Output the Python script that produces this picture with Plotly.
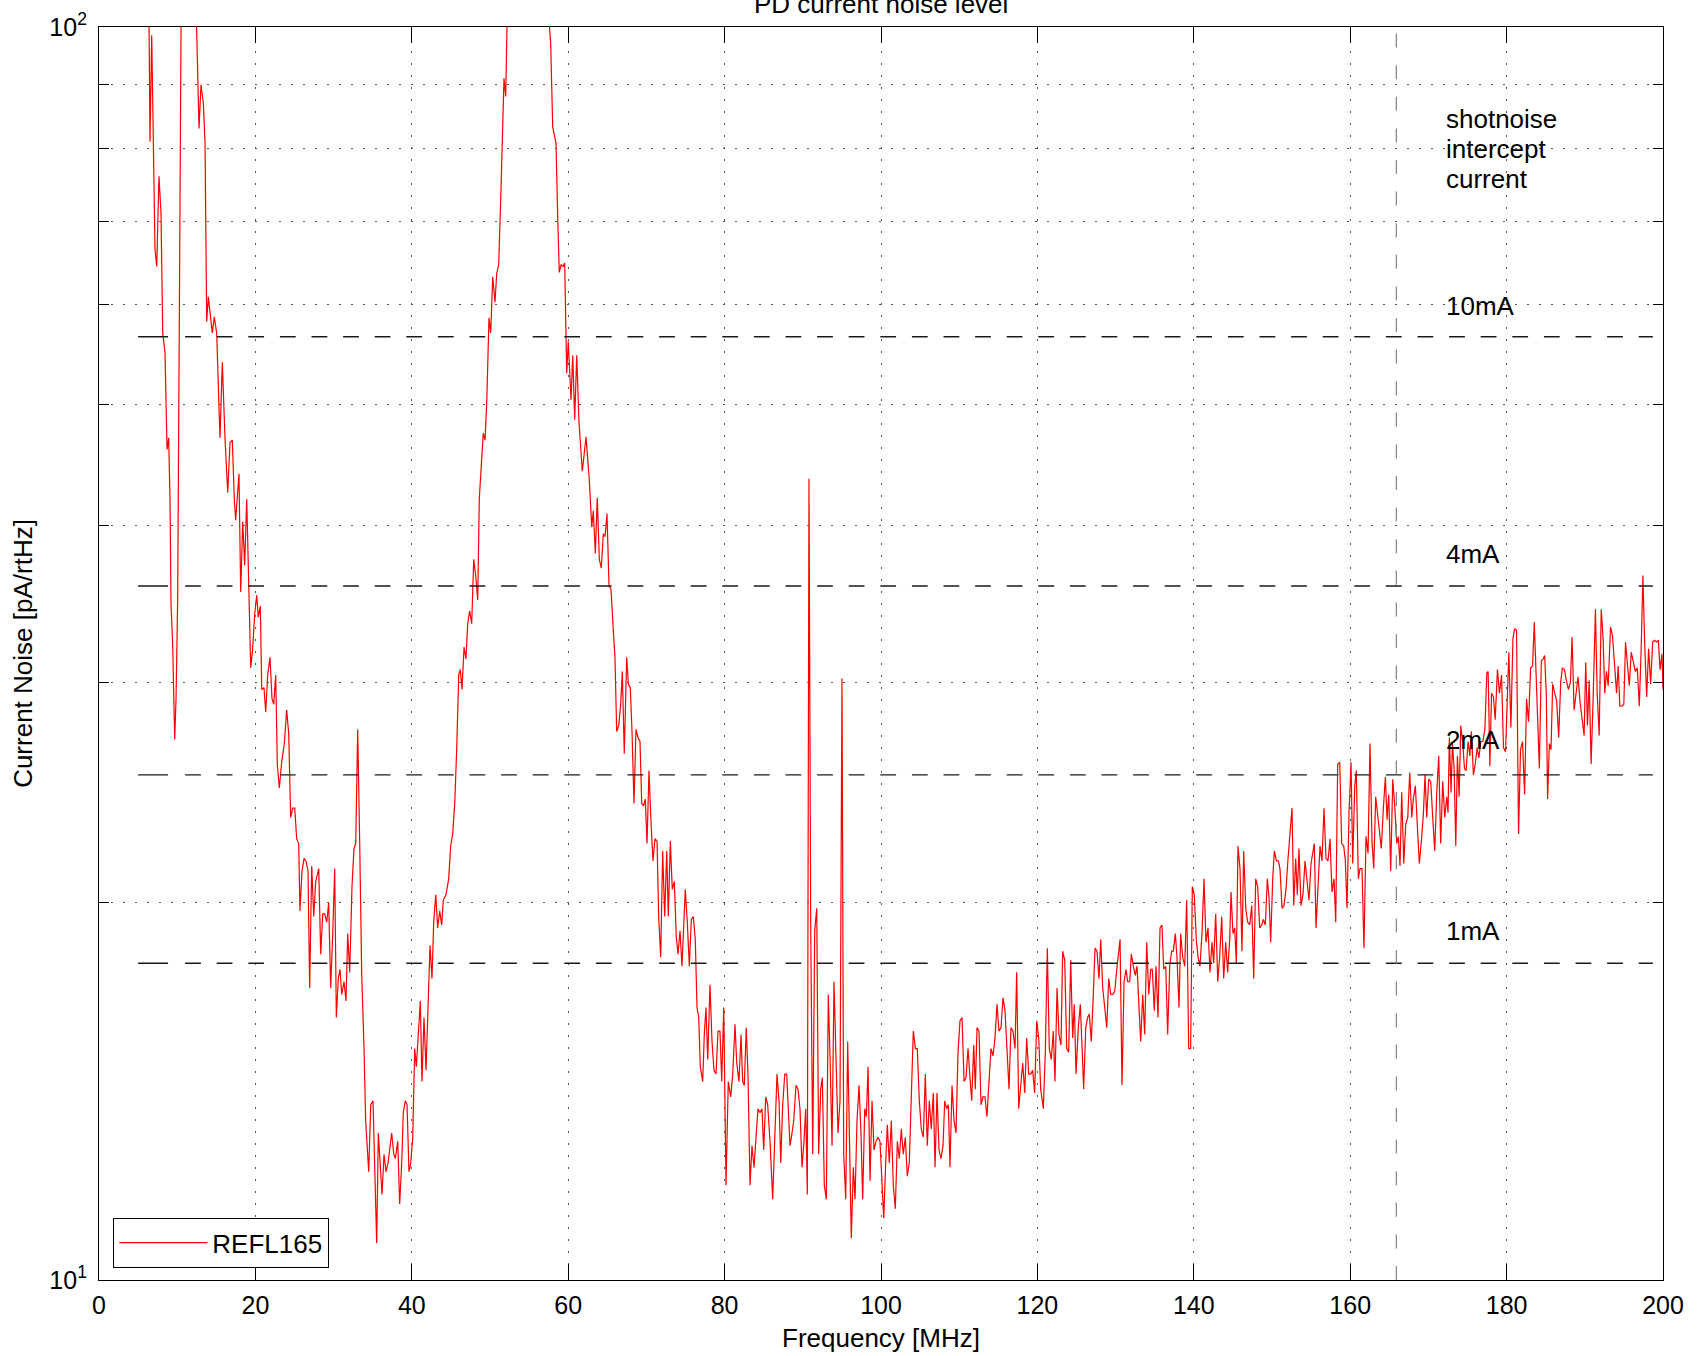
import math
import plotly.graph_objects as go

# ---------------- data (frequency in MHz, noise in pA/rtHz) ----------------
freq_low = [
    5.00, 5.60, 6.10, 6.30, 6.52, 6.74, 7.16, 7.38, 7.67, 7.93,
    8.15, 8.44, 8.70, 8.91, 9.08, 9.21, 9.42, 9.68, 9.85, 10.06,
    10.14, 10.60, 11.50, 12.20, 12.57, 12.79, 13.04, 13.34, 13.56, 13.77,
    13.98, 14.28, 14.49, 14.74, 15.05, 15.47, 15.77, 16.11, 16.46, 16.75,
    17.05, 17.30, 17.48, 17.90, 18.12, 18.38, 18.63, 18.89, 19.14, 19.40,
    19.65, 19.91, 20.17, 20.37, 20.63, 20.81, 21.10, 21.32, 21.57, 21.87,
    22.12, 22.34, 22.60, 22.80, 23.06, 23.36, 23.70, 24.00, 24.26, 24.51,
    24.77, 25.03, 25.28, 25.54, 25.70, 25.96, 26.22, 26.47, 26.73, 26.94,
    27.20, 27.46, 27.71, 28.10, 28.35, 28.61, 28.86, 29.12, 29.37, 29.63,
    29.89, 30.14, 30.35, 30.60, 30.82, 31.04, 31.33, 31.59, 31.80, 32.06,
    32.35, 32.61, 32.83, 33.08, 33.34, 33.59, 33.89, 34.10, 34.49, 34.75,
    35.04, 35.30, 35.51, 35.72, 35.93, 36.19, 36.45, 36.70, 36.96, 37.17,
    37.43, 37.69, 37.89, 38.20, 38.45, 38.71, 38.91, 39.17, 39.39, 39.64,
    39.86, 40.12, 40.37, 40.58, 40.83, 41.09, 41.30, 41.56, 41.82, 42.07,
    42.33, 42.58, 42.80, 43.06, 43.31, 43.57, 43.82, 44.03, 44.37, 44.72,
    44.97, 45.23, 45.49, 45.74, 46.00, 46.20, 46.42, 46.68, 46.93, 47.15,
    47.40, 47.66, 47.92, 48.17, 48.43, 48.63, 49.14, 49.36, 49.58, 49.87,
    50.09, 50.35, 50.64, 50.86, 51.11, 51.37, 51.57, 51.79, 52.01, 52.40,
    55.00, 57.30, 57.76, 58.02, 58.44, 58.66, 58.86, 59.08, 59.34, 59.55,
]
noise_low = [
    150, 140, 135, 120, 81, 98.5, 66.5, 64.4, 76, 71,
    57, 55, 46, 47, 42, 34.6, 32.2, 27.0, 29.1, 34.9,
    42, 130, 180, 118, 90.2, 83, 89.9, 87, 80.8, 58.2,
    60.9, 58.4, 57, 58.7, 57, 47, 54, 47, 42.5, 46.6,
    46.8, 42, 40.4, 44, 35.4, 40.3, 37.2, 42, 36.5, 30.8,
    31.9, 34, 35.2, 33.8, 34.5, 29.6, 29.7, 28.4, 30.4, 31.4,
    29.1, 28.8, 30.4, 25.8, 24.7, 25.9, 26.8, 28.5, 27.3, 23.4,
    23.8, 23.8, 22.5, 22.3, 19.7, 21.2, 21.7, 21.6, 21.2, 17.1,
    21.4, 19.5, 20.8, 21.3, 18.2, 19.6, 19.6, 19.3, 20.0, 17.1,
    18.9, 21.3, 16.2, 17.4, 17.7, 16.9, 17.3, 16.7, 18.9, 17.6,
    20.6, 22.1, 22.3, 27.5, 22.3, 17.6, 15.3, 13.4, 12.2, 13.8,
    13.9, 11.7, 10.7, 13.1, 12.4, 11.7, 12.6, 12.2, 12.4, 12.7,
    13.1, 12.6, 12.5, 12.9, 11.5, 12.4, 13.6, 13.9, 13.8, 12.2,
    12.4, 13.0, 15.3, 14.8, 15.6, 16.7, 14.4, 16.2, 14.7, 16.2,
    18.5, 17.4, 19.3, 20.3, 19.1, 19.7, 19.2, 20.1, 20.3, 20.9,
    22.2, 22.7, 24.0, 26.5, 30.4, 30.7, 29.6, 32.0, 31.3, 33.4,
    34.2, 33.4, 37.6, 36.5, 34.9, 42, 47.4, 46.8, 50.1, 58.6,
    57.0, 63.2, 60.3, 63.6, 64.6, 72.8, 80.2, 91, 88, 120,
    170, 106, 97, 83.2, 80.8, 70.4, 63.7, 64.6, 64.4, 64.8,
]

freq_mid = [
    59.81, 60.01, 60.36, 60.58, 60.83, 61.09, 61.38, 61.80, 62.28, 62.70,
    63.01, 63.21, 63.47, 63.72, 63.98, 64.23, 64.49, 64.71, 64.96, 65.22,
    65.47, 65.77, 65.98, 66.20, 66.46, 66.71, 66.92, 67.17, 67.48, 67.69,
    67.94, 68.16, 68.41, 68.67, 68.93, 69.18, 69.40, 69.63, 69.86, 70.08,
    70.33, 70.59, 70.84, 71.10, 71.36, 71.57, 71.83, 72.08, 72.34, 72.60,
    72.80, 73.06, 73.31, 73.57, 73.82, 74.04, 74.30, 74.55, 74.77, 74.97,
    75.23, 75.49, 75.74, 76.00, 76.25, 76.47, 76.69, 76.89, 77.20, 77.40,
    77.62, 77.84, 78.13, 78.39, 78.64, 78.90, 79.16, 79.41, 79.63, 79.89,
    80.18, 80.47, 80.78, 81.04, 81.33, 81.55, 81.84, 82.10, 82.31, 82.52,
    82.77, 82.99, 83.25, 83.50, 83.76, 84.02, 84.27, 84.53, 84.78, 85.00,
    85.26, 85.51, 85.81, 86.15, 86.45, 86.70, 86.96, 87.18, 87.43, 87.69,
    87.94, 88.15, 88.36, 88.62, 88.84, 89.13, 89.39, 89.64, 89.90, 90.15,
    90.37, 90.58, 90.79, 91.01, 91.27, 91.52, 91.78, 92.03, 92.29, 92.50,
    92.75, 93.01, 93.26, 93.48, 93.74, 93.99, 94.25, 94.50, 94.76, 95.01,
    95.23, 95.49, 95.74, 95.95, 96.20, 96.46, 96.68, 96.93, 97.19, 97.44,
    97.66, 97.92, 98.13, 98.34, 98.60, 98.85, 99.11, 99.36, 99.62, 99.87,
]
noise_mid = [
    52.9, 56.1, 50.4, 54.7, 48.6, 54.7, 48.4, 44.2, 47.1, 43.5,
    39.9, 41.1, 38.0, 42.1, 37.6, 37.0, 39.4, 39.2, 40.9, 35.8,
    35.6, 33.0, 31.4, 27.4, 27.7, 28.8, 30.6, 26.3, 31.4, 29.9,
    29.7, 27.4, 24.0, 27.5, 27.1, 26.9, 24.0, 23.9, 24.2, 22.3,
    25.5, 23.2, 21.6, 22.5, 22.4, 19.5, 18.1, 22.0, 19.5, 22.0,
    19.5, 22.4, 20.5, 20.8, 18.8, 18.2, 19.0, 17.8, 19.3, 20.5,
    19.3, 17.8, 19.4, 19.5, 18.7, 16.5, 16.2, 14.8, 14.4, 15.7,
    16.5, 15.0, 17.2, 15.5, 14.7, 14.6, 15.8, 15.8, 14.4, 16.5,
    11.9, 14.4, 14.0, 14.6, 16.0, 14.9, 14.4, 15.7, 14.4, 14.3,
    15.9, 14.6, 11.9, 12.8, 12.3, 12.9, 13.7, 13.6, 13.7, 12.7,
    14.0, 13.8, 12.9, 11.6, 13.1, 14.6, 13.9, 12.4, 13.8, 14.6,
    14.6, 13.8, 12.8, 13.1, 13.4, 14.3, 14.2, 13.7, 12.3, 12.9,
    13.7, 11.7, 43.6, 19.2, 12.6, 19.0, 19.8, 12.6, 14.2, 14.5,
    11.9, 11.6, 16.9, 15.1, 12.8, 17.3, 15.3, 13.1, 13.9, 30.2,
    12.6, 11.6, 15.5, 13.4, 10.8, 12.3, 11.6, 13.4, 14.3, 13.1,
    11.6, 13.7, 13.5, 14.8, 12.0, 13.9, 12.7, 12.9, 13.0, 12.9,
]

freq_upper = [
    100.13, 100.35, 100.60, 100.81, 101.06, 101.32, 101.57, 101.83, 102.09, 102.34,
    102.60, 102.85, 103.11, 103.36, 103.62, 103.88, 104.13, 104.39, 104.64, 104.90,
    105.15, 105.41, 105.67, 105.92, 106.18, 106.43, 106.69, 106.91, 107.16, 107.42,
    107.67, 107.93, 108.15, 108.40, 108.61, 108.82, 109.08, 109.34, 109.59, 109.85,
    110.10, 110.36, 110.62, 110.87, 111.13, 111.38, 111.60, 111.86, 112.06, 112.28,
    112.53, 112.79, 113.04, 113.30, 113.55, 113.81, 114.07, 114.32, 114.58, 114.83,
    115.09, 115.35, 115.60, 115.86, 116.11, 116.37, 116.62, 116.88, 117.14, 117.35,
    117.61, 117.86, 118.12, 118.38, 118.63, 118.89, 119.14, 119.40, 119.65, 119.91,
    120.17, 120.42, 120.76, 121.01, 121.27, 121.52, 121.78, 122.03, 122.25, 122.51,
    122.76, 123.02, 123.23, 123.49, 123.75, 124.00, 124.26, 124.51, 124.72, 124.94,
    125.23, 125.49, 125.70, 125.92, 126.18, 126.43, 126.64, 126.89, 127.15, 127.37,
    127.62, 127.88, 128.10, 128.35, 128.61, 128.87, 129.12, 129.38, 129.63, 129.89,
    130.15, 130.35, 130.57, 130.82, 131.08, 131.33, 131.55, 131.81, 132.01, 132.27,
    132.52, 132.74, 133.00, 133.21, 133.47, 133.72, 133.98, 134.24, 134.49, 134.69,
    134.95, 135.17, 135.42, 135.68, 135.93, 136.15, 136.41, 136.66, 136.92, 137.17,
    137.38, 137.64, 137.85, 138.11, 138.32, 138.58, 138.84, 139.09, 139.35, 139.60,
]
noise_upper = [
    12.1, 11.2, 12.4, 13.3, 12.4, 13.4, 11.9, 11.4, 12.9, 12.5,
    13.2, 12.6, 13.0, 12.1, 12.4, 14.4, 15.8, 15.3, 15.3, 13.9,
    13.2, 13.0, 14.6, 12.8, 13.9, 13.2, 14.1, 12.3, 14.1, 12.7,
    12.5, 12.8, 13.9, 13.7, 13.8, 12.3, 14.3, 13.4, 13.1, 15.2,
    16.1, 16.2, 14.4, 14.5, 15.3, 14.5, 13.9, 15.4, 14.2, 15.9,
    15.8, 13.8, 14.0, 14.0, 13.5, 14.4, 15.3, 15.1, 15.6, 16.6,
    15.8, 15.9, 16.8, 16.4, 15.3, 14.2, 15.9, 15.8, 15.3, 17.6,
    13.7, 14.3, 14.9, 14.1, 15.6, 14.6, 14.6, 14.7, 14.1, 16.1,
    15.6, 14.2, 13.7, 15.2, 18.4, 15.3, 15.0, 15.8, 14.4, 17.1,
    15.7, 15.4, 18.3, 18.0, 15.3, 15.2, 18.0, 15.6, 16.6, 14.6,
    15.9, 16.6, 15.3, 14.2, 15.9, 16.2, 16.3, 15.5, 16.9, 18.4,
    18.3, 17.4, 18.7, 17.1, 16.5, 15.9, 17.4, 16.9, 16.9, 17.0,
    17.7, 18.1, 18.7, 14.3, 17.3, 17.7, 17.3, 17.3, 18.2, 17.8,
    17.5, 17.8, 16.4, 15.5, 16.9, 15.7, 18.6, 16.9, 17.7, 17.7,
    16.4, 17.8, 16.2, 19.1, 19.2, 17.7, 17.8, 15.7, 17.8, 18.3,
    18.3, 18.9, 18.1, 16.5, 18.9, 18.1, 17.8, 20.1, 15.3, 15.3,
]

freq_high = [
    139.81, 140.06, 140.32, 140.54, 140.79, 141.05, 141.30, 141.56, 141.82, 142.07,
    142.33, 142.54, 142.80, 143.06, 143.31, 143.57, 143.82, 144.08, 144.33, 144.59,
    144.76, 145.01, 145.23, 145.44, 145.65, 145.91, 146.16, 146.38, 146.64, 146.89,
    147.15, 147.41, 147.66, 147.92, 148.17, 148.43, 148.69, 148.89, 149.15, 149.40,
    149.62, 149.83, 150.09, 150.30, 150.56, 150.81, 151.02, 151.28, 151.53, 151.79,
    152.05, 152.30, 152.56, 152.78, 153.03, 153.24, 153.45, 153.71, 153.96, 154.22,
    154.48, 154.73, 154.99, 155.21, 155.41, 155.63, 155.88, 156.14, 156.39, 156.65,
    156.91, 157.16, 157.42, 157.67, 157.93, 158.15, 158.40, 158.66, 158.91, 159.17,
    159.38, 159.59, 159.85, 160.11, 160.32, 160.58, 160.78, 161.04, 161.25, 161.51,
    161.76, 162.02, 162.28, 162.53, 162.79, 163.01, 163.26, 163.52, 163.73, 163.98,
    164.24, 164.50, 164.71, 164.93, 165.18, 165.44, 165.70, 165.95, 166.16, 166.37,
    166.59, 166.85, 167.10, 167.36, 167.61, 167.87, 168.07, 168.33, 168.55, 168.84,
    169.10, 169.35, 169.57, 169.78, 170.04, 170.30, 170.55, 170.81, 171.07, 171.32,
    171.57, 171.83, 172.09, 172.34, 172.51, 172.68, 172.90, 173.07, 173.29, 173.50,
    173.71, 173.93, 174.14, 174.40, 174.61, 174.82, 175.08, 175.30, 175.50, 175.76,
    176.02, 176.23, 176.45, 176.71, 176.96, 177.22, 177.47, 177.64, 177.86, 178.07,
    178.32, 178.54, 178.83, 179.09, 179.35, 179.60, 179.86, 180.04, 180.29, 180.55,
    180.81, 181.02, 181.27, 181.53, 181.78, 182.04, 182.30, 182.55, 182.81, 183.07,
    183.32, 183.54, 183.76, 183.96, 184.19, 184.44, 184.66, 184.87, 185.08, 185.24,
    185.47, 185.68, 185.89, 186.15, 186.40, 186.66, 186.92, 187.13, 187.39, 187.64,
    187.90, 188.16, 188.37, 188.63, 188.88, 189.14, 189.40, 189.66, 189.91, 190.12,
    190.34, 190.56, 190.81, 191.07, 191.36, 191.58, 191.84, 192.10, 192.35, 192.55,
    192.77, 192.99, 193.29, 193.54, 193.80, 194.06, 194.27, 194.48, 194.74, 194.99,
    195.21, 195.43, 195.69, 195.94, 196.20, 196.46, 196.71, 196.97, 197.22, 197.43,
    197.65, 197.91, 198.16, 198.42, 198.68, 198.93, 199.19, 199.41, 199.62, 199.87,
    200.00,
]
noise_high = [
    20.6, 20.3, 18.7, 18.1, 17.8, 18.9, 20.9, 18.6, 19.1, 17.6,
    18.6, 17.9, 19.6, 17.3, 18.1, 19.5, 17.4, 18.6, 17.6, 18.7,
    20.4, 18.9, 19.1, 17.9, 22.2, 21.3, 18.3, 22.0, 19.8, 19.3,
    19.2, 19.9, 17.4, 20.9, 20.6, 19.1, 19.2, 19.4, 19.2, 20.9,
    20.2, 18.6, 20.9, 22.0, 21.6, 21.6, 21.3, 19.8, 19.9, 20.5,
    21.7, 22.9, 23.8, 19.9, 21.7, 20.3, 22.1, 19.9, 20.3, 21.6,
    20.9, 20.1, 21.5, 22.0, 22.3, 19.1, 20.9, 22.2, 21.6, 23.8,
    21.7, 21.6, 22.5, 20.4, 20.9, 19.3, 25.8, 25.9, 22.3, 22.2,
    21.6, 19.8, 23.6, 25.9, 21.5, 24.8, 25.5, 20.9, 21.3, 21.3,
    18.4, 22.6, 21.9, 26.8, 22.4, 21.3, 24.3, 23.4, 23.0, 22.1,
    23.8, 25.2, 23.3, 24.4, 21.2, 25.1, 23.9, 22.3, 22.6, 21.4,
    24.5, 21.5, 23.1, 23.4, 25.4, 23.4, 24.2, 24.8, 23.3, 21.5,
    22.4, 23.5, 25.3, 23.4, 25.1, 25.0, 23.4, 22.0, 24.5, 26.2,
    22.3, 25.0, 23.4, 24.3, 23.6, 27.1, 24.5, 26.8, 25.6, 22.2,
    26.2, 24.3, 27.7, 26.8, 25.6, 25.5, 26.9, 26.2, 27.4, 25.3,
    25.9, 26.6, 26.1, 26.9, 26.9, 27.5, 30.5, 30.6, 25.7, 29.4,
    29.2, 28.0, 30.7, 29.4, 30.4, 26.6, 26.4, 28.7, 31.7, 27.6,
    32.5, 33.1, 33.0, 22.7, 26.5, 26.9, 24.4, 29.1, 27.9, 30.8,
    30.9, 33.5, 30.2, 28.2, 25.6, 31.2, 31.3, 31.5, 29.3, 24.2,
    26.8, 26.5, 29.9, 29.4, 29.0, 27.1, 30.0, 30.8, 30.7, 30.1,
    29.6, 30.0, 32.6, 28.5, 29.4, 30.3, 28.9, 28.0, 27.2, 31.1,
    27.7, 30.1, 25.8, 29.2, 34.3, 29.4, 27.2, 34.3, 32.4, 29.4,
    30.6, 29.8, 33.2, 32.7, 31.1, 29.4, 30.9, 28.7, 28.7, 28.8,
    32.3, 31.1, 29.8, 31.7, 31.2, 30.6, 30.8, 28.7, 32.1, 36.5,
    32.3, 29.2, 31.9, 29.9, 32.3, 32.4, 32.3, 32.4, 30.7, 31.6,
    29.6,
]

# shot-noise reference levels (pA/rtHz) and their labels
shot_currents = ["10mA", "4mA", "2mA", "1mA"]
shot_levels = [56.6, 35.8, 25.3, 17.9]
shot_label_y = [59.9, 38.0, 27.0, 19.0]
shot_line_f = [5.0, 198.7]
header_lines = ["shotnoise", "intercept", "current"]
header_y = [84.5, 79.9, 75.6]
label_f = 172.0
intercept_freq = 165.9

x_ticks = [0, 20, 40, 60, 80, 100, 120, 140, 160, 180, 200]
y_major_ticks = [10, 100]
y_major_text = ["10<sup>1</sup>", "10<sup>2</sup>"]
y_minor_ticks = [20, 30, 40, 50, 60, 70, 80, 90]

freq = freq_low + freq_mid + freq_upper + freq_high
noise = noise_low + noise_mid + noise_upper + noise_high
assert len(freq) == len(noise)

FONT = "Liberation Sans, Arial, Helvetica, sans-serif"

fig = go.Figure()
fig.add_trace(go.Scatter(
    x=freq, y=noise, mode="lines", name="REFL165",
    line=dict(color="#ff0000", width=1.2),
))

hdash = "30px,17px," + ",".join(["15.8px,15.8px"] * 60)
for lvl in shot_levels:
    fig.add_trace(go.Scatter(
        x=shot_line_f, y=[lvl, lvl], mode="lines", showlegend=False,
        hoverinfo="skip", line=dict(color="#1a1a1a", width=1.4, dash=hdash),
    ))

fig.add_trace(go.Scatter(
    x=[intercept_freq, intercept_freq], y=[10, 100], mode="lines",
    showlegend=False, hoverinfo="skip",
    line=dict(color="#808080", width=1.2, dash="14px,17.6px"),
))

annotations = []
for txt, yv in zip(shot_currents, shot_label_y):
    annotations.append(dict(x=label_f, y=math.log10(yv), xref="x", yref="y",
                            text=txt, showarrow=False, xanchor="left", yanchor="middle",
                            font=dict(family=FONT, size=26, color="black")))
for txt, yv in zip(header_lines, header_y):
    annotations.append(dict(x=label_f, y=math.log10(yv), xref="x", yref="y",
                            text=txt, showarrow=False, xanchor="left", yanchor="middle",
                            font=dict(family=FONT, size=26, color="black")))
annotations.append(dict(x=0.5, y=1, xref="paper", yref="paper", text="PD current noise level",
                        showarrow=False, xanchor="center", yanchor="bottom", yshift=5.5,
                        font=dict(family=FONT, size=26, color="black")))

grid_dash = "2px,10px"
fig.update_layout(
    width=1700, height=1356,
    margin=dict(l=99, r=37, t=27, b=76, pad=0),
    paper_bgcolor="white", plot_bgcolor="white",
    font=dict(family=FONT, size=25, color="black"),
    showlegend=True,
    legend=dict(x=0.009, y=0.0096, xanchor="left", yanchor="bottom",
                bgcolor="white", bordercolor="black", borderwidth=1.2,
                font=dict(family=FONT, size=26, color="black"),
                itemwidth=88),
    annotations=annotations,
    xaxis=dict(
        range=[0, 200], tickvals=x_ticks, ticks="inside", ticklen=16, tickwidth=1.2,
        tickcolor="black", showline=True, linecolor="black", linewidth=1.2, mirror="ticks",
        showgrid=True, gridcolor="#555555", gridwidth=1, griddash=grid_dash, zeroline=False,
        tickfont=dict(family=FONT, size=25), ticklabelstandoff=3, automargin=False,
        title=dict(text="Frequency [MHz]", font=dict(family=FONT, size=26), standoff=10),
    ),
    yaxis=dict(
        type="log", range=[1, 2], tickvals=y_major_ticks, ticktext=y_major_text,
        ticks="inside", ticklen=10, tickwidth=1.2, tickcolor="black", showline=True,
        linecolor="black", linewidth=1.2, mirror="ticks", showgrid=True,
        gridcolor="#555555", gridwidth=1, griddash=grid_dash, zeroline=False,
        minor=dict(tickvals=y_minor_ticks, ticks="inside", ticklen=10, tickwidth=1.2,
                   tickcolor="black", showgrid=True, gridcolor="#555555", gridwidth=1,
                   griddash=grid_dash),
        tickfont=dict(family=FONT, size=25), ticklabelstandoff=6, automargin=False,
        title=dict(text="Current Noise [pA/rtHz]", font=dict(family=FONT, size=26), standoff=9),
    ),
)

fig.write_html("out.html", config={"displayModeBar": False},
               post_script="document.body.style.margin='0';")
